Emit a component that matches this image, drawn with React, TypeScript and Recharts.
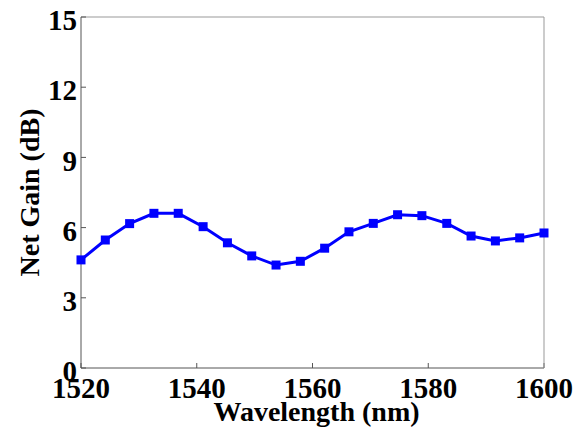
import { Line, LineChart, XAxis, YAxis } from "recharts";

// wavelength (nm) / net gain (dB)
const wavelengths = [
  1520, 1524.2, 1528.4, 1532.6, 1536.8, 1541.1, 1545.3, 1549.5, 1553.7, 1557.9,
  1562.1, 1566.3, 1570.5, 1574.7, 1578.9, 1583.2, 1587.4, 1591.6, 1595.8, 1600,
];
const netGain = [
  4.62, 5.47, 6.17, 6.61, 6.61, 6.04, 5.35, 4.79, 4.4, 4.56,
  5.12, 5.82, 6.18, 6.55, 6.51, 6.18, 5.64, 5.43, 5.56, 5.77,
];
const xTicks = [1520, 1540, 1560, 1580, 1600];
const yTicks = [0, 3, 6, 9, 12, 15];

const data = wavelengths.map((w, i) => ({ w, gain: netGain[i] }));

const FONT = "'Liberation Serif', 'Times New Roman', serif";
const BLUE = "#0000FF";

function Square(props: any) {
  const { cx, cy, index } = props;
  if (cx == null || cy == null) return <g key={index} />;
  return <rect key={index} x={cx - 4.5} y={cy - 4.5} width={9} height={9} fill={BLUE} />;
}

function XTick(props: any) {
  const { x, y, payload } = props;
  return (
    <text x={x} y={y} dy="0.72em" textAnchor="middle" fontFamily={FONT} fontWeight="bold" fontSize={29} fill="#000">
      {payload.value}
    </text>
  );
}

function YTick(props: any) {
  const { x, y, payload } = props;
  return (
    <text x={x} y={y + 3} dy="0.35em" textAnchor="end" fontFamily={FONT} fontWeight="bold" fontSize={29} fill="#000">
      {payload.value}
    </text>
  );
}

function YTitle(props: any) {
  const vb = props.viewBox || { x: 0, y: 17, width: 81, height: 351 };
  const cy = vb.y + vb.height / 2;
  return (
    <text
      x={29}
      y={cy}
      transform={`rotate(-90, 29, ${cy})`}
      textAnchor="middle"
      dominantBaseline="central"
      fontFamily={FONT}
      fontWeight="bold"
      fontSize={28}
      fill="#000"
    >
      Net Gain (dB)
    </text>
  );
}

function XTitle(props: any) {
  const vb = props.viewBox || { x: 81, y: 368, width: 463, height: 64 };
  const cx = vb.x + vb.width / 2 + 4;
  return (
    <text x={cx} y={421} textAnchor="middle" fontFamily={FONT} fontWeight="bold" fontSize={28} fill="#000">
      Wavelength (nm)
    </text>
  );
}

export default function App() {
  return (
    <div style={{ position: "absolute", left: 0, top: 0, background: "#fff" }}>
      <LineChart width={575} height={432} data={data} margin={{ top: 16, right: 30, bottom: 0, left: 0 }}>
        <XAxis
          dataKey="w"
          type="number"
          domain={[1520, 1600]}
          ticks={xTicks}
          height={64}
          stroke="#555"
          tickSize={-5}
          tickMargin={14}
          tick={<XTick />}
          label={{ content: <XTitle /> }}
        />
        <XAxis
          xAxisId="top"
          dataKey="w"
          orientation="top"
          type="number"
          domain={[1520, 1600]}
          ticks={xTicks}
          height={1}
          stroke="#999"
          tickSize={-5}
          tick={false}
        />
        <YAxis
          type="number"
          domain={[0, 15]}
          ticks={yTicks}
          width={81}
          stroke="#555"
          tickSize={-5}
          tickMargin={9}
          tick={<YTick />}
          label={{ content: <YTitle /> }}
        />
        <YAxis
          yAxisId="right"
          orientation="right"
          type="number"
          domain={[0, 15]}
          ticks={yTicks}
          width={1}
          stroke="#999"
          tickSize={-5}
          tick={false}
        />
        {/* invisible copy so the mirrored box axes are bound to a series */}
        <Line
          xAxisId="top"
          yAxisId="right"
          dataKey="gain"
          stroke="none"
          dot={false}
          activeDot={false}
          isAnimationActive={false}
        />
        <Line
          dataKey="gain"
          type="linear"
          stroke={BLUE}
          strokeWidth={3}
          dot={<Square />}
          isAnimationActive={false}
        />
      </LineChart>
    </div>
  );
}
